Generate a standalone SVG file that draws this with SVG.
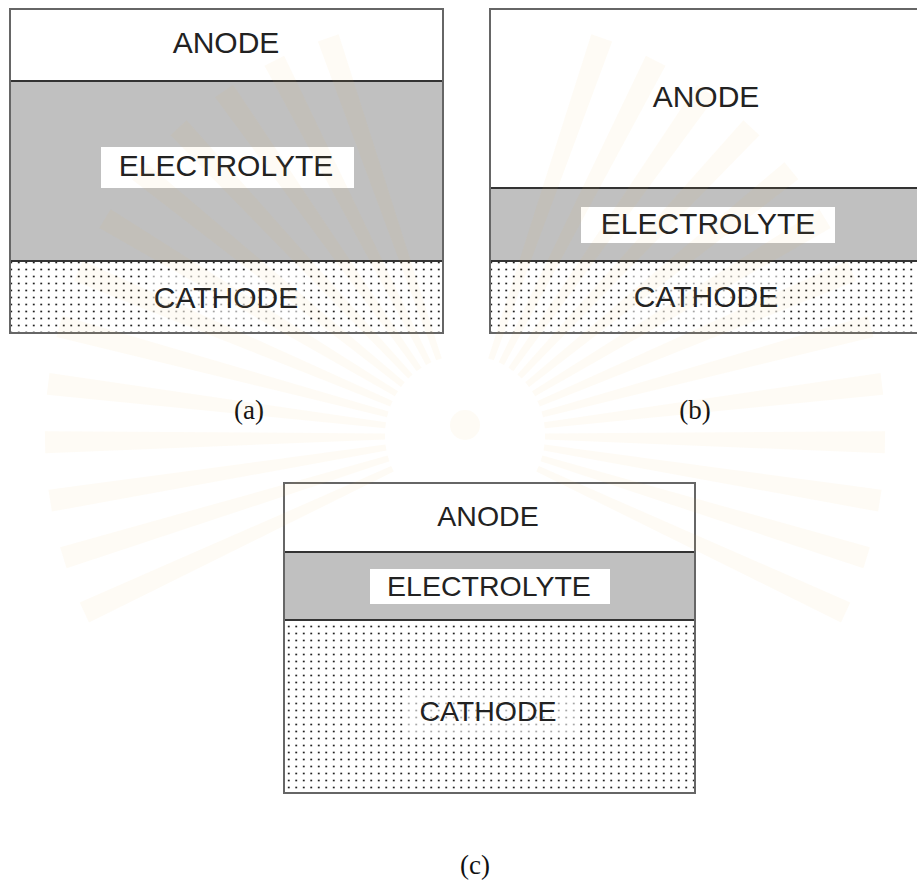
<svg xmlns="http://www.w3.org/2000/svg" width="917" height="892" viewBox="0 0 917 892">
<defs>
<pattern id="dots" patternUnits="userSpaceOnUse" width="7.5" height="7">
<rect width="7.5" height="7" fill="#ffffff"/>
<circle cx="3.75" cy="3.5" r="1" fill="#1a1a1a"/>
</pattern>
<polygon id="ray" points="-3,-80 3,-80 11,-420 -11,-420"/>
</defs>
<style>
.frame{fill:none;stroke:#666;stroke-width:2}
.sep{stroke:#333;stroke-width:2}
.anode{fill:#ffffff}
.elec{fill:#c0c0c0}
.cath{fill:url(#dots)}
.lblbox{fill:#ffffff}
.cbox{fill:#ffffff;fill-opacity:0.6}
.t{font-family:"Liberation Sans",Arial,sans-serif;fill:#222;text-anchor:middle}
.big{font-size:30px}
.mid{font-size:28.5px}
.cap{font-family:"Liberation Serif","Times New Roman",serif;font-size:27px;fill:#111;text-anchor:middle}
.wm{fill:#e6c25a;fill-opacity:0.06}
</style>
<rect width="917" height="892" fill="#ffffff"/>

<g id="panel-a">
<rect class="anode" x="10" y="9" width="433" height="72"/>
<rect class="elec" x="10" y="81" width="433" height="180"/>
<rect class="cath" x="10" y="261" width="433" height="72"/>
<line class="sep" x1="10" y1="81" x2="443" y2="81"/>
<line class="sep" x1="10" y1="261" x2="443" y2="261"/>
<rect class="frame" x="10" y="9" width="433" height="324"/>
<text class="t big" x="226" y="53">ANODE</text>
<rect class="lblbox" x="101" y="147" width="253" height="41"/>
<text class="t big" x="226" y="176">ELECTROLYTE</text>
<rect class="cbox" x="148" y="274" width="156" height="48"/>
<text class="t big" x="226" y="308">CATHODE</text>
</g>

<g id="panel-b">
<rect class="anode" x="490" y="9" width="432" height="179"/>
<rect class="elec" x="490" y="188" width="432" height="73"/>
<rect class="cath" x="490" y="261" width="432" height="72"/>
<line class="sep" x1="490" y1="188" x2="922" y2="188"/>
<line class="sep" x1="490" y1="261" x2="922" y2="261"/>
<rect class="frame" x="490" y="9" width="432" height="324"/>
<text class="t big" x="706" y="107">ANODE</text>
<rect class="lblbox" x="581" y="207" width="254" height="36"/>
<text class="t big" x="708" y="234">ELECTROLYTE</text>
<rect class="cbox" x="628" y="273" width="156" height="48"/>
<text class="t big" x="706" y="307">CATHODE</text>
</g>

<g id="panel-c">
<rect class="anode" x="284" y="483" width="411" height="69"/>
<rect class="elec" x="284" y="552" width="411" height="68"/>
<rect class="cath" x="284" y="620" width="411" height="173"/>
<line class="sep" x1="284" y1="552" x2="695" y2="552"/>
<line class="sep" x1="284" y1="620" x2="695" y2="620"/>
<rect class="frame" x="284" y="483" width="411" height="310"/>
<text class="t mid" x="488" y="526">ANODE</text>
<rect class="lblbox" x="370" y="569" width="240" height="35"/>
<text class="t mid" x="489" y="596">ELECTROLYTE</text>
<rect class="cbox" x="407" y="690" width="168" height="47"/>
<text class="t mid" x="488" y="721">CATHODE</text>
</g>

<g id="captions">
<text class="cap" x="249" y="419">(a)</text>
<text class="cap" x="695" y="419">(b)</text>
<text class="cap" x="475" y="874">(c)</text>
</g>

<g id="watermark">
<g transform="translate(465 435)">
<use href="#ray" class="wm" transform="rotate(-115)"/>
<use href="#ray" class="wm" transform="rotate(-107)"/>
<use href="#ray" class="wm" transform="rotate(-99)"/>
<use href="#ray" class="wm" transform="rotate(-91)"/>
<use href="#ray" class="wm" transform="rotate(-83)"/>
<use href="#ray" class="wm" transform="rotate(-75)"/>
<use href="#ray" class="wm" transform="rotate(-67)"/>
<use href="#ray" class="wm" transform="rotate(-59)"/>
<use href="#ray" class="wm" transform="rotate(-51)"/>
<use href="#ray" class="wm" transform="rotate(-43)"/>
<use href="#ray" class="wm" transform="rotate(-35)"/>
<use href="#ray" class="wm" transform="rotate(-27)"/>
<use href="#ray" class="wm" transform="rotate(-19)"/>
<use href="#ray" class="wm" transform="rotate(19)"/>
<use href="#ray" class="wm" transform="rotate(27)"/>
<use href="#ray" class="wm" transform="rotate(35)"/>
<use href="#ray" class="wm" transform="rotate(43)"/>
<use href="#ray" class="wm" transform="rotate(51)"/>
<use href="#ray" class="wm" transform="rotate(59)"/>
<use href="#ray" class="wm" transform="rotate(67)"/>
<use href="#ray" class="wm" transform="rotate(75)"/>
<use href="#ray" class="wm" transform="rotate(83)"/>
<use href="#ray" class="wm" transform="rotate(91)"/>
<use href="#ray" class="wm" transform="rotate(99)"/>
<use href="#ray" class="wm" transform="rotate(107)"/>
<use href="#ray" class="wm" transform="rotate(115)"/>
<circle class="wm" cx="0" cy="-10" r="15"/>
</g>
</g>
</svg>
